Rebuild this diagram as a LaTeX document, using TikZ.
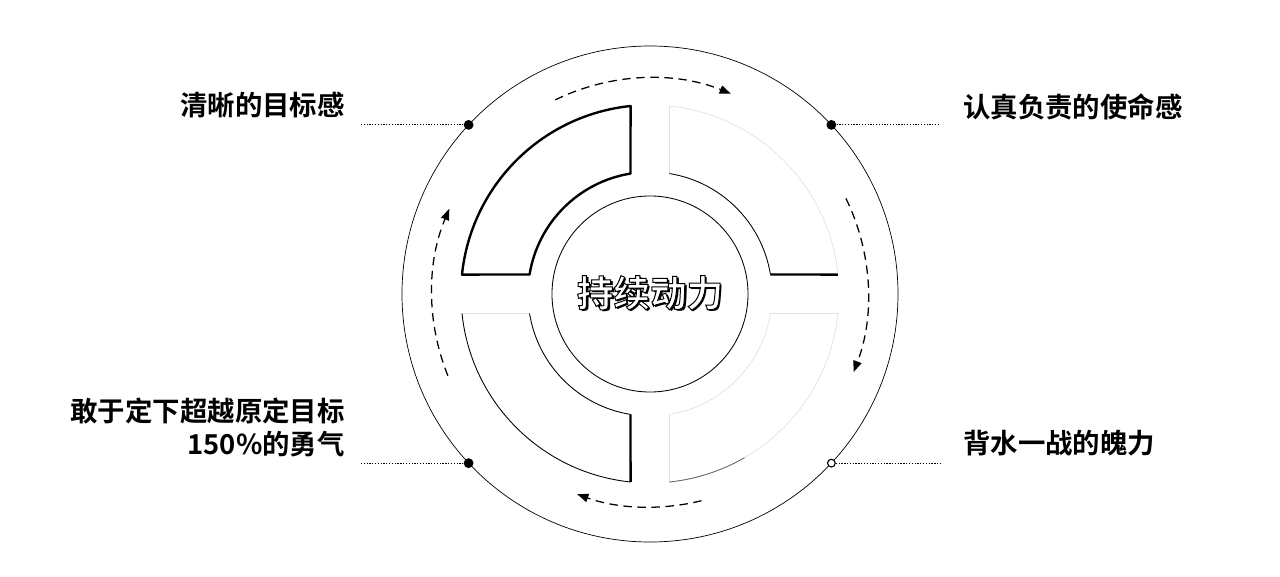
\documentclass[tikz,border=0pt]{standalone}
\usepackage{fontspec}
\setmainfont{Noto Sans CJK SC}[BoldFont={Noto Sans CJK SC Bold}]
\usetikzlibrary{arrows.meta}

\newcommand\outlined[1]{{\color{white}\special{pdf:literal direct 0 G 2 Tr 0.7 w}#1\special{pdf:literal direct 0 Tr}}}
\newcommand\hubtext[1]{\makebox[0pt][l]{\hspace{1.6pt}\raisebox{-1.6pt}{#1}}\outlined{#1}}

\begin{document}
\begin{tikzpicture}[x=0.025cm,y=0.025cm,
  ring/.style={draw,line width=0.5pt},
  seg/.style={draw,line width=1.7pt,line join=round},
  faint/.style={draw=black!12,line width=0.5pt},
  rim/.style={draw,line width=0.6pt},
  flow/.style={-{Triangle[length=8pt,width=6pt]},dash pattern=on 6pt off 4pt,line width=0.9pt},
  pin/.style={circle,fill=black,inner sep=0pt,minimum size=7pt},
  hollow/.style={circle,draw,fill=white,line width=0.8pt,inner sep=0pt,minimum size=5.5pt},
  lead/.style={dash pattern=on 0.9pt off 1.1pt,line width=0.8pt},
  tag/.style={font=\bfseries\fontsize{19.5pt}{23.5pt}\selectfont,align=right,inner sep=0pt},
  hub/.style={circle,draw,line width=0.6pt,minimum size=4.9cm,inner sep=0pt,
    font=\bfseries\fontsize{26pt}{30pt}\selectfont}
]
\useasboundingbox (-650,-283) rectangle (630,294);

\draw[ring] (0,0) circle[radius=248];

% quadrants
\draw[seg] (95.9:189) arc[start angle=95.9,end angle=174.1,radius=189]
  -- (170.8:122) arc[start angle=170.8,end angle=99.2,radius=122] -- cycle;

\draw[faint] (84.1:189) arc[start angle=84.1,end angle=5.9,radius=189]
  -- (9.2:122) arc[start angle=9.2,end angle=80.8,radius=122] -- cycle;
\draw[rim] (80.8:122) arc[start angle=80.8,end angle=9.2,radius=122];
\draw[seg] (9.2:122) -- (5.9:189);

\draw[faint] (185.9:189) arc[start angle=185.9,end angle=264.1,radius=189]
  -- (260.8:122) arc[start angle=260.8,end angle=189.2,radius=122] -- cycle;
\draw[rim] (185.9:189) arc[start angle=185.9,end angle=264.1,radius=189];
\draw[rim] (260.8:122) arc[start angle=260.8,end angle=189.2,radius=122];
\draw[seg] (264.1:189) -- (260.8:122);

\draw[faint] (275.9:189) arc[start angle=275.9,end angle=354.1,radius=189]
  -- (350.8:122) arc[start angle=350.8,end angle=279.2,radius=122] -- cycle;
\draw[draw=black!60,line width=0.6pt] (275.9:189) arc[start angle=275.9,end angle=300,radius=189];

\node[hub] (core) at (0,0) {\hubtext{持续动力}};

% flow arrows
\draw[flow] (116:216) arc[start angle=116,end angle=68,radius=216];
\draw[flow] (26:218) arc[start angle=26,end angle=-21,radius=218];
\draw[flow] (-76:213) arc[start angle=-76,end angle=-110,radius=213];
\draw[flow] (202:218) arc[start angle=202,end angle=157,radius=218];

% pins and labels
\node[pin] (p1) at (137:248) {};
\node[pin] (p2) at (43:248) {};
\node[pin] (p3) at (-137:248) {};
\node[hollow] (p4) at (-43:248) {};

\coordinate (wl) at (-290,0);
\coordinate (wr) at (290,0);
\draw[lead] (p1) -- (p1 -| wl);
\draw[lead] (p2) -- (p2 -| wr);
\draw[lead] (p3) -- (p3 -| wl);
\draw[lead] (p4) -- (p4 -| wr);

\node[tag,anchor=east] (t1) at (-305,189) {清晰的目标感};
\node[tag,anchor=west] (t2) at (313,187) {认真负责的使命感};
\node[tag,anchor=east] (t3) at (-305,-133) {敢于定下超越原定目标\\150\%的勇气};
\node[tag,anchor=west] (t4) at (313,-149) {背水一战的魄力};
\end{tikzpicture}
\end{document}
